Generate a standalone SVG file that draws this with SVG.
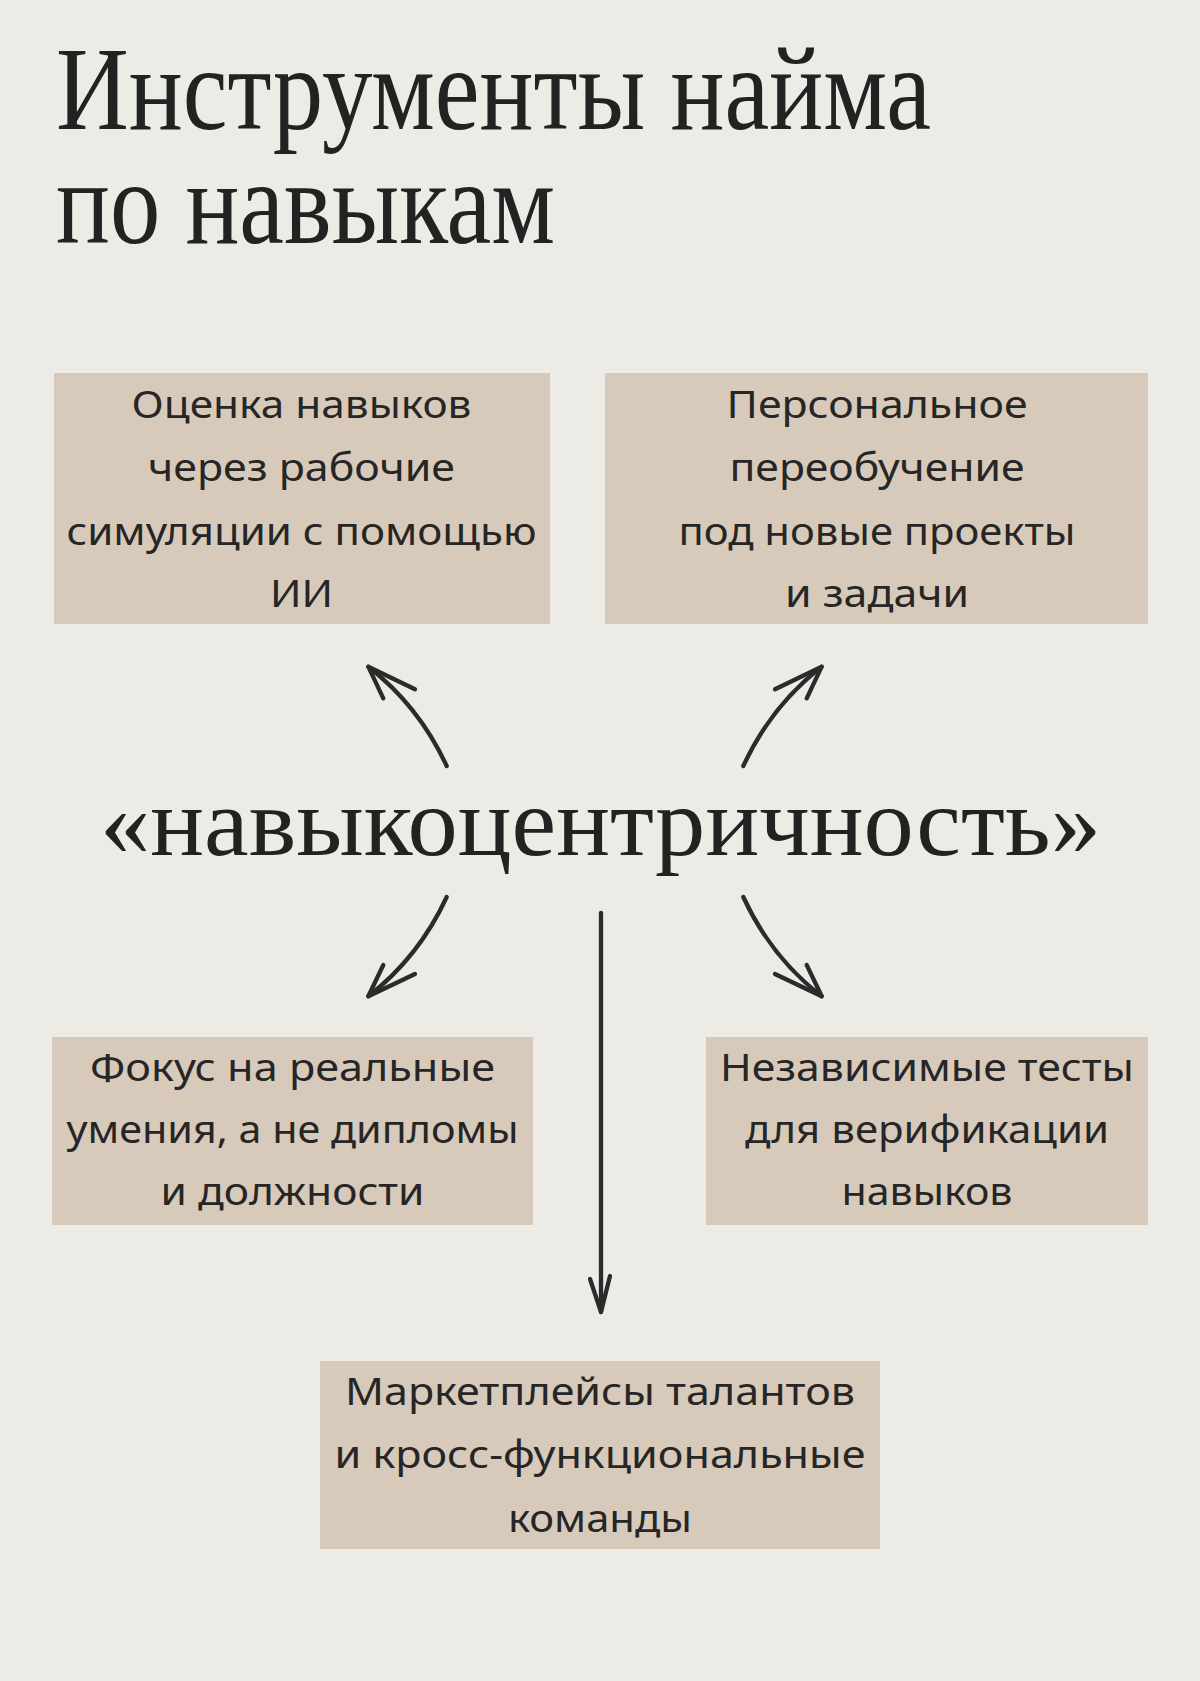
<svg xmlns="http://www.w3.org/2000/svg" width="1200" height="1681" viewBox="0 0 1200 1681">
  <defs>
    <style>
      .bg { fill: #ecebe6; }
      .box { fill: #d8cabb; }
      .title { font-family: "Liberation Serif", "DejaVu Serif", serif; fill: #222222; }
      .label { font-family: "Noto Sans", "Open Sans", "Liberation Sans", sans-serif; font-size: 38px; fill: #262626; text-anchor: middle; }
      .conn { fill: none; stroke: #2b2b2b; stroke-width: 4.3; stroke-linecap: round; stroke-linejoin: round; }
    </style>
  </defs>

  <rect class="bg" x="0" y="0" width="1200" height="1681"/>

  <g id="title">
    <text class="title" x="56" y="129" font-size="118" textLength="875" lengthAdjust="spacingAndGlyphs">Инструменты найма</text>
    <text class="title" x="56" y="243" font-size="118" textLength="499" lengthAdjust="spacingAndGlyphs">по навыкам</text>
  </g>

  <g id="center">
    <text class="title" x="100" y="855" font-size="98" textLength="1001" lengthAdjust="spacingAndGlyphs">«навыкоцентричность»</text>
  </g>

  <g id="node-assessment">
    <rect class="box" x="54" y="373" width="496" height="251"/>
    <text class="label" x="301.5" y="418" textLength="340" lengthAdjust="spacingAndGlyphs">Оценка навыков</text>
    <text class="label" x="301.5" y="481" textLength="307" lengthAdjust="spacingAndGlyphs">через рабочие</text>
    <text class="label" x="301.5" y="545" textLength="470" lengthAdjust="spacingAndGlyphs">симуляции с помощью</text>
    <text class="label" x="301.5" y="607" textLength="63" lengthAdjust="spacingAndGlyphs">ИИ</text>
  </g>

  <g id="node-retraining">
    <rect class="box" x="605" y="373" width="543" height="251"/>
    <text class="label" x="877" y="418" textLength="301" lengthAdjust="spacingAndGlyphs">Персональное</text>
    <text class="label" x="877" y="481" textLength="295" lengthAdjust="spacingAndGlyphs">переобучение</text>
    <text class="label" x="877" y="545" textLength="397" lengthAdjust="spacingAndGlyphs">под новые проекты</text>
    <text class="label" x="877" y="607" textLength="184" lengthAdjust="spacingAndGlyphs">и задачи</text>
  </g>

  <g id="node-focus">
    <rect class="box" x="52" y="1037" width="481" height="188"/>
    <text class="label" x="292.5" y="1081" textLength="405" lengthAdjust="spacingAndGlyphs">Фокус на реальные</text>
    <text class="label" x="292.5" y="1143" textLength="452" lengthAdjust="spacingAndGlyphs">умения, а не дипломы</text>
    <text class="label" x="292.5" y="1205" textLength="264" lengthAdjust="spacingAndGlyphs">и должности</text>
  </g>

  <g id="node-tests">
    <rect class="box" x="706" y="1037" width="442" height="188"/>
    <text class="label" x="927" y="1081" textLength="414" lengthAdjust="spacingAndGlyphs">Независимые тесты</text>
    <text class="label" x="927" y="1143" textLength="364" lengthAdjust="spacingAndGlyphs">для верификации</text>
    <text class="label" x="927" y="1205" textLength="171" lengthAdjust="spacingAndGlyphs">навыков</text>
  </g>

  <g id="node-marketplaces">
    <rect class="box" x="320" y="1361" width="560" height="188"/>
    <text class="label" x="600" y="1405" textLength="510" lengthAdjust="spacingAndGlyphs">Маркетплейсы талантов</text>
    <text class="label" x="600" y="1468" textLength="531" lengthAdjust="spacingAndGlyphs">и кросс-функциональные</text>
    <text class="label" x="600" y="1532" textLength="184" lengthAdjust="spacingAndGlyphs">команды</text>
  </g>

  <g id="connectors">
    <path class="conn" d="M446.7,766 Q419,706 368.3,666.7"/>
    <path class="conn" d="M383.3,698.3 L368.3,666.7 L415,689.3"/>

    <path class="conn" d="M743.3,766 Q771,706 821.7,666.7"/>
    <path class="conn" d="M806.7,698.3 L821.7,666.7 L775,689.3"/>

    <path class="conn" d="M446.7,897 Q419,957 368.3,996.3"/>
    <path class="conn" d="M383.3,965 L368.3,996.3 L415,974"/>

    <path class="conn" d="M743.3,897 Q771,957 821.7,996.3"/>
    <path class="conn" d="M806.7,965 L821.7,996.3 L775,974"/>

    <path class="conn" d="M601,913 L601,1312"/>
    <path class="conn" d="M590,1279 L601,1312 L610,1276"/>
  </g>
</svg>
